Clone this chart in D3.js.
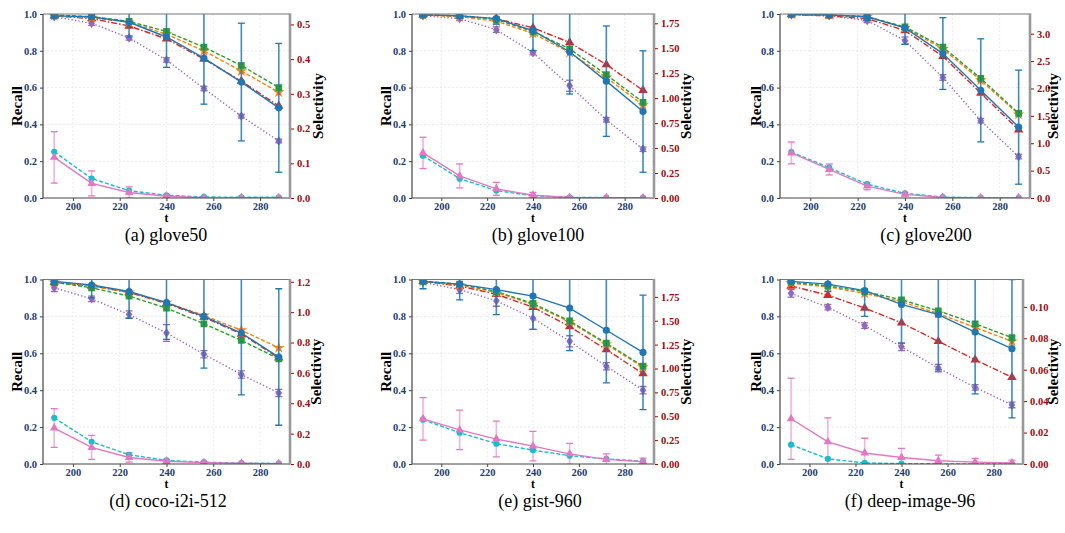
<!DOCTYPE html>
<html>
<head>
<meta charset="utf-8">
<script src="https://cdn.jsdelivr.net/npm/d3@7"></script>
<style>
  body { margin: 0; background: #fff; }
</style>
</head>
<body>
<svg id="chart" width="1065" height="533"></svg>
<script>
// x values (t) shared by every panel
const tValues = [192, 208, 224, 240, 256, 272, 288];
const xTicks = [200, 220, 240, 260, 280];
const recallTicks = [0, 0.2, 0.4, 0.6, 0.8, 1.0];

const captions = ['(a) glove50', '(b) glove100', '(c) glove200', '(d) coco-i2i-512', '(e) gist-960', '(f) deep-image-96'];

// right axis (selectivity) per panel
const selectivityMax = [0.53, 1.843, 3.36, 1.215, 1.932, 0.1174];
const selectivityTicks = [
  [0, 0.1, 0.2, 0.3, 0.4, 0.5],
  [0, 0.25, 0.5, 0.75, 1.0, 1.25, 1.5, 1.75],
  [0, 0.5, 1.0, 1.5, 2.0, 2.5, 3.0],
  [0, 0.2, 0.4, 0.6, 0.8, 1.0, 1.2],
  [0, 0.25, 0.5, 0.75, 1.0, 1.25, 1.5, 1.75],
  [0, 0.02, 0.04, 0.06, 0.08, 0.10]
];
const selectivityFormat = ['.1f', '.2f', '.1f', '.1f', '.2f', '.2f'];

// recall series (left axis), one row per panel
const recallBlue = [
  [0.99, 0.985, 0.955, 0.875, 0.76, 0.63, 0.49],
  [0.995, 0.99, 0.975, 0.91, 0.795, 0.635, 0.47],
  [0.998, 0.995, 0.985, 0.925, 0.785, 0.585, 0.385],
  [0.99, 0.97, 0.935, 0.875, 0.80, 0.71, 0.58],
  [0.99, 0.975, 0.945, 0.91, 0.845, 0.725, 0.605],
  [0.99, 0.975, 0.94, 0.865, 0.81, 0.715, 0.625]
];
const recallBlueErr = [
  [0.01, 0.01, 0.08, 0.165, 0.25, 0.32, 0.35],
  [0.005, 0.01, 0.03, 0.11, 0.23, 0.30, 0.33],
  [0.003, 0.005, 0.02, 0.09, 0.195, 0.28, 0.31],
  [0.02, 0.07, 0.145, 0.2, 0.28, 0.335, 0.37],
  [0.04, 0.085, 0.135, 0.18, 0.23, 0.285, 0.31],
  [0.01, 0.04, 0.14, 0.21, 0.3, 0.335, 0.375]
];
const recallOrange = [
  [0.99, 0.98, 0.955, 0.89, 0.80, 0.69, 0.575],
  [0.995, 0.985, 0.96, 0.895, 0.79, 0.655, 0.505],
  [0.998, 0.995, 0.985, 0.925, 0.81, 0.64, 0.455],
  [0.985, 0.965, 0.93, 0.875, 0.805, 0.725, 0.63],
  [0.99, 0.97, 0.93, 0.865, 0.77, 0.65, 0.525],
  [0.98, 0.96, 0.925, 0.88, 0.815, 0.74, 0.665]
];
const recallGreen = [
  [0.995, 0.985, 0.96, 0.905, 0.82, 0.72, 0.60],
  [0.995, 0.99, 0.97, 0.905, 0.81, 0.67, 0.52],
  [0.998, 0.995, 0.985, 0.93, 0.82, 0.65, 0.46],
  [0.985, 0.955, 0.91, 0.845, 0.76, 0.67, 0.57],
  [0.99, 0.975, 0.935, 0.87, 0.775, 0.655, 0.53],
  [0.985, 0.965, 0.935, 0.89, 0.83, 0.76, 0.685]
];
const recallRed = [
  [0.99, 0.975, 0.935, 0.865, 0.755, 0.635, 0.50],
  [0.995, 0.99, 0.975, 0.925, 0.845, 0.725, 0.585],
  [0.997, 0.99, 0.975, 0.91, 0.77, 0.57, 0.37],
  [0.985, 0.965, 0.93, 0.87, 0.795, 0.705, 0.575],
  [0.99, 0.965, 0.92, 0.85, 0.745, 0.62, 0.49],
  [0.965, 0.915, 0.845, 0.765, 0.665, 0.565, 0.47]
];
const recallPurple = [
  [0.985, 0.95, 0.87, 0.75, 0.595, 0.445, 0.31],
  [0.99, 0.975, 0.915, 0.79, 0.61, 0.425, 0.265],
  [0.995, 0.99, 0.965, 0.855, 0.655, 0.42, 0.225],
  [0.955, 0.895, 0.81, 0.71, 0.595, 0.485, 0.385],
  [0.985, 0.945, 0.885, 0.79, 0.665, 0.53, 0.40],
  [0.925, 0.85, 0.75, 0.635, 0.52, 0.415, 0.32]
];
const recallPurpleErr = [
  [0.008, 0.012, 0.012, 0.012, 0.012, 0.01, 0.01],
  [0.005, 0.01, 0.015, 0.012, 0.03, 0.012, 0.012],
  [0.005, 0.008, 0.012, 0.02, 0.015, 0.012, 0.012],
  [0.02, 0.015, 0.02, 0.045, 0.02, 0.02, 0.02],
  [0.01, 0.02, 0.03, 0.06, 0.03, 0.02, 0.02],
  [0.02, 0.015, 0.015, 0.02, 0.02, 0.015, 0.015]
];

// selectivity series (right axis)
const selCyan = [
  [0.133, 0.056, 0.021, 0.008, 0.003, 0.002, 0.002],
  [0.424, 0.194, 0.074, 0.022, 0.007, 0.004, 0.004],
  [0.84, 0.554, 0.252, 0.084, 0.017, 0.007, 0.007],
  [0.304, 0.146, 0.061, 0.024, 0.012, 0.006, 0.004],
  [0.464, 0.328, 0.213, 0.145, 0.087, 0.054, 0.029],
  [0.0123, 0.0033, 0.0007, 0.0002, 0.0001, 0.0001, 0.0001]
];
const selPink = [
  [0.117, 0.042, 0.016, 0.005, 0.001, 0.0005, 0.0005],
  [0.452, 0.221, 0.092, 0.028, 0.006, 0.002, 0.002],
  [0.823, 0.521, 0.218, 0.067, 0.01, 0.003, 0.003],
  [0.237, 0.109, 0.043, 0.018, 0.009, 0.005, 0.002],
  [0.473, 0.357, 0.261, 0.187, 0.106, 0.048, 0.023],
  [0.0288, 0.0141, 0.007, 0.0041, 0.0021, 0.0012, 0.0007]
];
const selPinkErr = [
  [0.074, 0.036, 0.016, 0.005, 0.002, 0, 0],
  [0.157, 0.12, 0.065, 0.028, 0.007, 0, 0],
  [0.2, 0.1, 0.067, 0.027, 0, 0, 0],
  [0.128, 0.079, 0.03, 0.012, 0.006, 0, 0],
  [0.222, 0.207, 0.187, 0.155, 0.11, 0.058, 0.039],
  [0.0258, 0.0153, 0.0094, 0.0059, 0.0035, 0.0023, 0.0018]
];

// plot boxes for the 6 panels
const boxes = [
  {l: 43, r: 290, t: 14, b: 198, recallX: 17, selX: 318, capX: 166},
  {l: 412, r: 654, t: 14, b: 198, recallX: 386, selX: 686, capX: 538},
  {l: 780, r: 1030, t: 14, b: 198, recallX: 756, selX: 1053, capX: 926},
  {l: 43, r: 290, t: 279.5, b: 464, recallX: 17, selX: 316, capX: 168},
  {l: 412, r: 654, t: 279.5, b: 464, recallX: 386, selX: 686, capX: 540},
  {l: 780, r: 1023, t: 279.5, b: 464, recallX: 756, selX: 1053, capX: 910}
];

const serif = "'Liberation Serif', 'DejaVu Serif', serif";
const leftColor = '#1d3c6e';
const rightColor = '#9b0a0a';

const thinDiamond = {
  draw(ctx, size) {
    const h = Math.sqrt(size) * 0.75, w = h * 0.7;
    ctx.moveTo(0, -h); ctx.lineTo(w, 0); ctx.lineTo(0, h); ctx.lineTo(-w, 0); ctx.closePath();
  }
};

const svg = d3.select('#chart').attr('font-family', serif);

boxes.forEach((bx, p) => {
  const g = svg.append('g');
  const x = d3.scaleLinear().domain([187.2, 292.8]).range([bx.l, bx.r]);
  const yL = d3.scaleLinear().domain([0, 1]).range([bx.b, bx.t]);
  const yR = d3.scaleLinear().domain([0, selectivityMax[p]]).range([bx.b, bx.t]);

  const clipId = 'clip' + p;
  svg.append('clipPath').attr('id', clipId).append('rect')
    .attr('x', bx.l).attr('y', bx.t).attr('width', bx.r - bx.l).attr('height', bx.b - bx.t);

  // grid
  const grid = g.append('g');
  grid.selectAll('.gx').data(xTicks).enter().append('line')
    .attr('x1', d => x(d)).attr('x2', d => x(d)).attr('y1', bx.t).attr('y2', bx.b)
    .attr('stroke', '#e6e6e6').attr('stroke-width', 0.8).attr('stroke-dasharray', '2,2');
  grid.selectAll('.gy').data(recallTicks.slice(1, -1)).enter().append('line')
    .attr('x1', bx.l).attr('x2', bx.r).attr('y1', d => yL(d)).attr('y2', d => yL(d))
    .attr('stroke', '#e6e6e6').attr('stroke-width', 0.8).attr('stroke-dasharray', '2,2');

  const plot = g.append('g').attr('clip-path', `url(#${clipId})`);

  function errBars(vals, errs, y, color, barOpacity, capColor) {
    const eb = plot.append('g');
    vals.forEach((v, i) => {
      const e = errs[i];
      if (!e) return;
      const cx = x(tValues[i]);
      eb.append('line').attr('x1', cx).attr('x2', cx).attr('y1', y(v - e)).attr('y2', y(v + e))
        .attr('stroke', color).attr('stroke-width', 1.6).attr('opacity', barOpacity);
      [v - e, v + e].forEach(c => {
        eb.append('line').attr('x1', cx - 3.5).attr('x2', cx + 3.5).attr('y1', y(c)).attr('y2', y(c))
          .attr('stroke', capColor).attr('stroke-width', 1.3);
      });
    });
  }

  function series(vals, y, color, dash, symbol, size) {
    const line = d3.line().x((d, i) => x(tValues[i])).y(d => y(d));
    plot.append('path').datum(vals).attr('d', line)
      .attr('fill', 'none').attr('stroke', color).attr('stroke-width', 1.4)
      .attr('stroke-dasharray', dash);
    plot.append('g').selectAll('path').data(vals).enter().append('path')
      .attr('d', d3.symbol().type(symbol).size(size))
      .attr('transform', (d, i) => `translate(${x(tValues[i])},${y(d)})`)
      .attr('fill', color);
  }

  // selectivity curves
  errBars(selPink[p], selPinkErr[p], yR, '#e377c2', 0.55, '#e377c2');
  series(selCyan[p], yR, '#17becf', '4,2', d3.symbolCircle, 30);
  series(selPink[p], yR, '#e377c2', null, d3.symbolTriangle, 32);

  // recall curves
  errBars(recallPurple[p], recallPurpleErr[p], yL, '#9467bd', 0.6, '#9467bd');
  series(recallPurple[p], yL, '#9467bd', '1.3,2.2', thinDiamond, 40);
  series(recallRed[p], yL, '#d62728', '6,2,1.5,2', d3.symbolTriangle, 38);
  series(recallOrange[p], yL, '#ff7f0e', '4,2', d3.symbolStar, 42);
  series(recallGreen[p], yL, '#2ca02c', '4,2', d3.symbolSquare, 46);
  errBars(recallBlue[p], recallBlueErr[p], yL, '#1f77b4', 0.85, '#1f77b4');
  series(recallBlue[p], yL, '#1f77b4', null, d3.symbolCircle, 40);

  // spines
  g.append('line').attr('x1', bx.l).attr('x2', bx.r).attr('y1', bx.t).attr('y2', bx.t).attr('stroke', '#777').attr('stroke-width', 1.2);
  g.append('line').attr('x1', bx.l).attr('x2', bx.r).attr('y1', bx.b).attr('y2', bx.b).attr('stroke', '#444').attr('stroke-width', 1.2);
  g.append('line').attr('x1', bx.l).attr('x2', bx.l).attr('y1', bx.t).attr('y2', bx.b).attr('stroke', '#444').attr('stroke-width', 1.2);
  g.append('line').attr('x1', bx.r).attr('x2', bx.r).attr('y1', bx.t - 0.6).attr('y2', bx.b + 0.6).attr('stroke', '#999').attr('stroke-width', 2.6);

  // axes
  const ax = g.append('g').attr('transform', `translate(0,${bx.b})`)
    .call(d3.axisBottom(x).tickValues(xTicks).tickSize(3).tickPadding(2).tickFormat(d3.format('d')));
  const al = g.append('g').attr('transform', `translate(${bx.l},0)`)
    .call(d3.axisLeft(yL).tickValues(recallTicks).tickSize(3).tickFormat(d3.format('.1f')));
  const ar = g.append('g').attr('transform', `translate(${bx.r + 1},0)`)
    .call(d3.axisRight(yR).tickValues(selectivityTicks[p]).tickSize(3).tickFormat(d3.format(selectivityFormat[p])));
  [ax, al, ar].forEach(a => {
    a.attr('font-family', serif).attr('font-size', 10.5).attr('font-weight', 'bold');
    a.select('.domain').remove();
  });
  ax.selectAll('line').attr('stroke', '#444');
  ax.selectAll('text').attr('fill', leftColor).attr('dy', '0.62em');
  al.selectAll('line').attr('stroke', '#444');
  al.selectAll('text').attr('fill', leftColor);
  ar.selectAll('line').attr('stroke', rightColor);
  ar.selectAll('text').attr('fill', rightColor);

  // labels
  g.append('text').attr('x', (bx.l + bx.r) / 2).attr('y', bx.b + 23.5)
    .attr('text-anchor', 'middle').attr('font-weight', 'bold').attr('font-size', 11.5).text('t');
  g.append('text').attr('transform', `translate(${bx.recallX},${(bx.t + bx.b) / 2}) rotate(-90)`)
    .attr('text-anchor', 'middle').attr('dy', '0.35em')
    .attr('font-weight', 'bold').attr('font-size', 15).text('Recall');
  g.append('text').attr('transform', `translate(${bx.selX},${(bx.t + bx.b) / 2}) rotate(-90)`)
    .attr('text-anchor', 'middle').attr('dy', '0.35em')
    .attr('font-weight', 'bold').attr('font-size', 15).text('Selectivity');
  g.append('text').attr('x', bx.capX).attr('y', bx.b + 43)
    .attr('text-anchor', 'middle').attr('font-size', 18).text(captions[p]);
});
</script>
</body>
</html>
